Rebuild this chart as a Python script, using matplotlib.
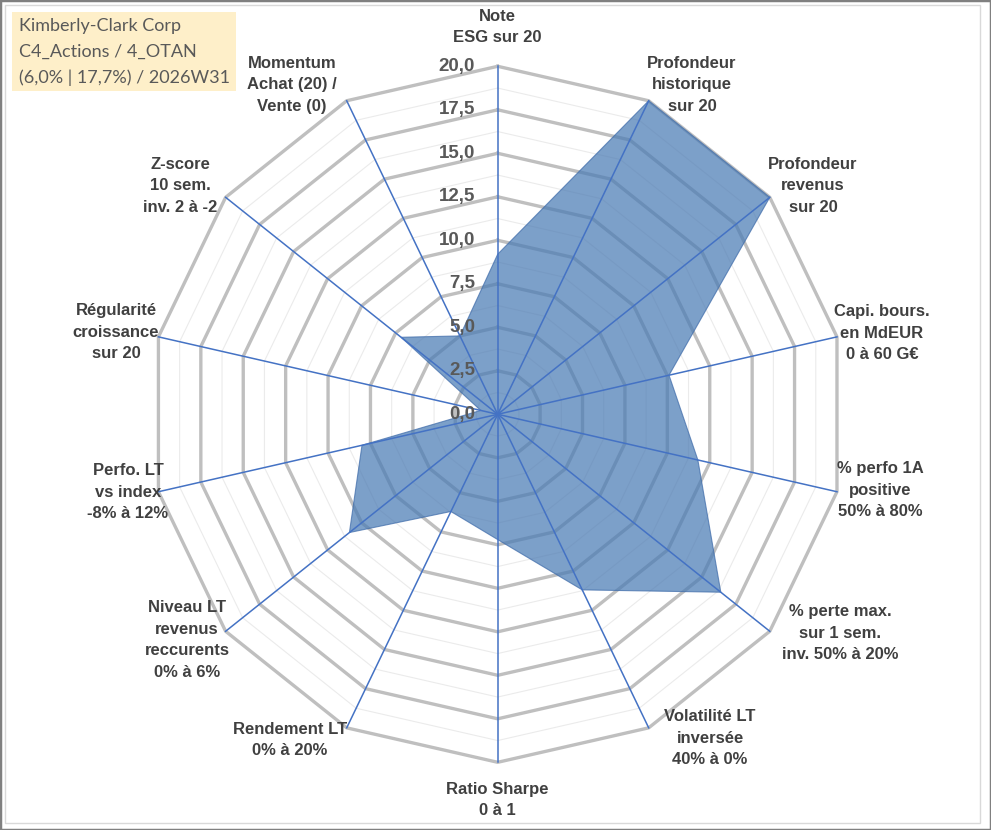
import matplotlib
matplotlib.use('Agg')
import matplotlib.pyplot as plt
import numpy as np
from matplotlib.patches import Rectangle, Polygon

# chart data
categories = ['Note\nESG sur 20',
              'Profondeur\nhistorique\nsur 20',
              'Profondeur\nrevenus\nsur 20',
              'Capi. bours.\nen MdEUR\n0 à 60 G€',
              '% perfo 1A\npositive\n50% à 80%',
              '% perte max.\nsur 1 sem.\ninv. 50% à 20%',
              'Volatilité LT\ninversée\n40% à 0%',
              'Ratio Sharpe\n0 à 1',
              'Rendement LT\n0% à 20%',
              'Niveau LT\nrevenus\nreccurents\n0% à 6%',
              'Perfo. LT\nvs index\n-8% à 12%',
              'Régularité\ncroissance\nsur 20',
              'Z-score\n10 sem.\ninv. 2 à -2',
              'Momentum\nAchat (20) /\nVente (0)']
values = [9.2, 20, 20, 10.1, 11.8, 16.4, 11.2, 7.2, 6.2, 10.9, 8.0, 1.0, 7.1, 5.0]
ticks = [0, 2.5, 5, 7.5, 10, 12.5, 15, 17.5, 20]
tick_labels = ['0,0', '2,5', '5,0', '7,5', '10,0', '12,5', '15,0', '17,5', '20,0']
title_lines = ['Kimberly-Clark Corp', 'C4_Actions / 4_OTAN', '(6,0% | 17,7%) / 2026W31']

# label positions (pixels) - layout only
label_pos = [(497, 27), (692, 85), (813, 186), (882, 333), (880, 490), (840, 633),
             (710, 738), (497, 800), (290, 740), (187, 640), (128, 492), (116, 332),
             (180, 186), (292, 85)]

W, H = 991, 830
cx, cy, R = 497.7, 414.3, 348.0
vmax = 20.0
L = 22.0
half = L / vmax * R

fig = plt.figure(figsize=(W / 100, H / 100), dpi=100)
fig.patch.set_facecolor('white')
ax = fig.add_axes([(cx - half) / W, (H - cy - half) / H, 2 * half / W, 2 * half / H])
ax.set_xlim(-L, L)
ax.set_ylim(-L, L)
ax.axis('off')

n = len(categories)
theta = np.arange(n) * 2 * np.pi / n
sx, sy = np.sin(theta), np.cos(theta)

# minor rings
for r in np.arange(1.25, 20, 2.5):
    ax.plot(np.append(r * sx, r * sx[0]), np.append(r * sy, r * sy[0]),
            color='#EBEBEB', lw=0.8, zorder=1)
# major rings
for r in ticks[1:]:
    ax.plot(np.append(r * sx, r * sx[0]), np.append(r * sy, r * sy[0]),
            color='#BFBFBF', lw=2.4, zorder=2, solid_joinstyle='miter')

v = np.array(values)
poly = Polygon(np.column_stack([v * sx, v * sy]), closed=True,
               facecolor='#4A7BB4', alpha=0.72, edgecolor='#3F6CAA', lw=0.8, zorder=3)
ax.add_patch(poly)

# spokes
for i in range(n):
    ax.plot([0, vmax * sx[i]], [0, vmax * sy[i]], color='#4472C4', lw=1.1, zorder=4)

for t, lab in zip(ticks, tick_labels):
    ax.text(-1.3, t, lab, ha='right', va='center', fontsize=13.5, fontweight='bold',
            color='#595959', family='Liberation Sans', zorder=5)

for (px, py), lab in zip(label_pos, categories):
    fig.text(px / W, 1 - py / H, lab, ha='center', va='center', multialignment='center',
             fontsize=12, fontweight='bold', color='#404040', family='Liberation Sans',
             linespacing=1.55)

# title box
fig.patches.append(Rectangle((12 / W, 1 - 91 / H), 224 / W, 79 / H, transform=fig.transFigure,
                             facecolor='#FEEFC9', edgecolor='none', zorder=0))
fig.text(19 / W, 1 - 52 / H, '\n'.join(title_lines), ha='left', va='center',
         fontsize=13, color='#595959', family='Lato', linespacing=1.72)

# frames
fig.patches.append(Rectangle((5 / W, 7 / H), 975 / W, 818 / H, transform=fig.transFigure,
                             facecolor='none', edgecolor='#D9D9D9', lw=1))
fig.patches.append(Rectangle((0, 0), 1, 1, transform=fig.transFigure,
                             facecolor='none', edgecolor='#808080', lw=2.5))

fig.savefig('out.png', dpi=100)
